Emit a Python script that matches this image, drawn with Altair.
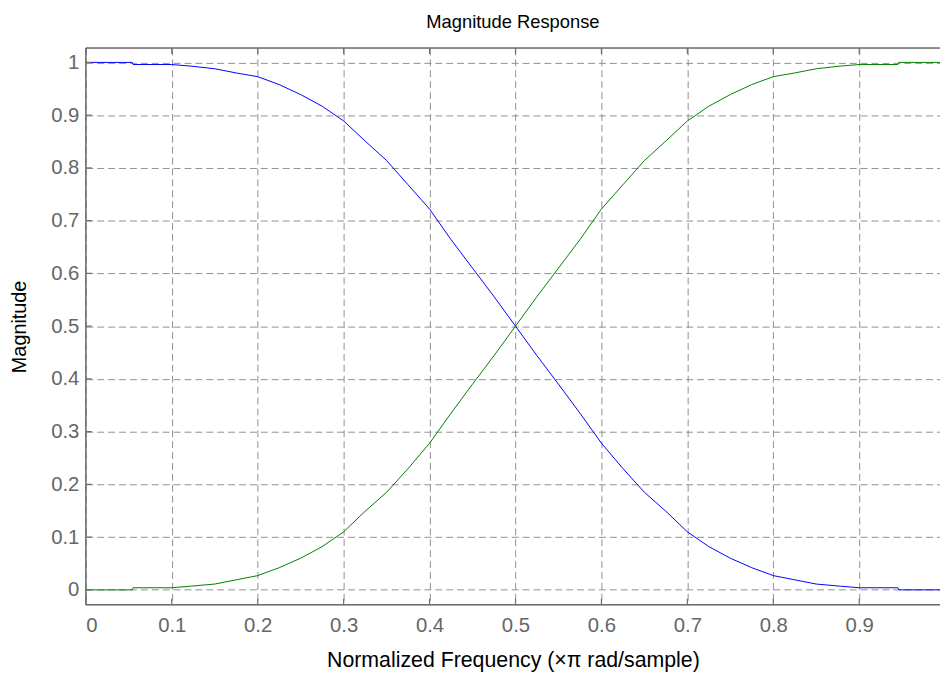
import altair as alt
import pandas as pd

# Normalized frequency (x pi rad/sample)
freq = [0, 0.054, 0.055, 0.1, 0.122, 0.15, 0.175, 0.2, 0.225, 0.25, 0.275, 0.3,
        0.325, 0.35, 0.375, 0.4, 0.425, 0.45, 0.475, 0.5, 0.525, 0.55, 0.575, 0.6,
        0.625, 0.65, 0.675, 0.7, 0.725, 0.75, 0.775, 0.8, 0.825, 0.85, 0.878, 0.9,
        0.945, 0.946, 1.0]
# Lowpass (blue) magnitude
blue = [1.0, 1.0, 0.996, 0.996, 0.993, 0.988, 0.980, 0.973, 0.958, 0.939, 0.917, 0.889,
        0.851, 0.814, 0.768, 0.722, 0.664, 0.610, 0.556, 0.5, 0.444, 0.390, 0.335, 0.278,
        0.230, 0.185, 0.149, 0.110, 0.082, 0.060, 0.042, 0.027, 0.019, 0.011, 0.007, 0.004,
        0.004, 0.0, 0.0]
# Highpass (green) magnitude
green = [0.0, 0.0, 0.004, 0.004, 0.007, 0.011, 0.019, 0.027, 0.042, 0.060, 0.082, 0.110,
         0.149, 0.185, 0.230, 0.278, 0.335, 0.390, 0.444, 0.5, 0.556, 0.610, 0.664, 0.722,
         0.768, 0.814, 0.851, 0.889, 0.917, 0.939, 0.958, 0.973, 0.980, 0.988, 0.993, 0.996,
         0.996, 1.0, 1.0]

x_ticks = [0, 0.1, 0.2, 0.3, 0.4, 0.5, 0.6, 0.7, 0.8, 0.9]
y_ticks = [0, 0.1, 0.2, 0.3, 0.4, 0.5, 0.6, 0.7, 0.8, 0.9, 1.0]

W = 861.5
H = 561.5
XMAX = 0.994
YMIN, YMAX = -0.0282, 1.0273
FRAME = "#6e6e6e"
GRID = "#909090"
FONT = "Liberation Sans"

df = pd.concat([
    pd.DataFrame({"f": freq, "m": blue, "s": "b"}),
    pd.DataFrame({"f": freq, "m": green, "s": "g"}),
])

xs = alt.Scale(domain=[0, XMAX], nice=False, zero=False)
ys = alt.Scale(domain=[YMIN, YMAX], nice=False, zero=False)

x_axis = alt.Axis(
    values=x_ticks, format="~g", title="Normalized Frequency (×π rad/sample)",
    grid=True, gridDash=[7, 4], gridColor=GRID, gridWidth=1,
    ticks=False, tickSize=0, domain=False,
    labelFontSize=20.5, labelColor="#666666", labelPadding=11, labelFont=FONT,
    titleFontSize=21.5, titleFontWeight="normal", titleColor="#000000", titleFont=FONT,
    titleY=56, titleBaseline="middle")
y_axis = alt.Axis(
    values=y_ticks, format="~g", title="Magnitude",
    grid=True, gridDash=[7, 4], gridColor=GRID, gridWidth=1,
    ticks=False, tickSize=0, domain=False,
    labelFontSize=20.5, labelColor="#666666", labelPadding=7, labelFont=FONT,
    titleFontSize=20, titleFontWeight="normal", titleColor="#000000", titleFont=FONT,
    titleX=-66.5, titleBaseline="middle")

lines = alt.Chart(df).mark_line(strokeWidth=1, clip=True).encode(
    x=alt.X("f:Q", scale=xs, axis=x_axis),
    y=alt.Y("m:Q", scale=ys, axis=y_axis),
    color=alt.Color("s:N", scale=alt.Scale(domain=["b", "g"], range=["#0000ff", "#008000"]), legend=None),
    detail="s:N",
)

one = pd.DataFrame({"a": [0]})
frame_top = alt.Chart(one).mark_rule(color=FRAME, strokeWidth=1.5).encode(
    x=alt.value(0), x2=alt.value(W), y=alt.value(0))
frame_bot = alt.Chart(one).mark_rule(color=FRAME, strokeWidth=1.5).encode(
    x=alt.value(0), x2=alt.value(W), y=alt.value(H))
frame_left = alt.Chart(one).mark_rule(color=FRAME, strokeWidth=1.5).encode(
    x=alt.value(0), y=alt.value(0), y2=alt.value(H))

xt = pd.DataFrame({"f": x_ticks})
yt = pd.DataFrame({"m": y_ticks})
ticks_bot = alt.Chart(xt).mark_rule(color=FRAME, strokeWidth=1.2).encode(
    x=alt.X("f:Q", scale=xs, axis=x_axis), y=alt.value(H), y2=alt.value(H - 6))
ticks_top = alt.Chart(xt).mark_rule(color=FRAME, strokeWidth=1.2).encode(
    x=alt.X("f:Q", scale=xs, axis=x_axis), y=alt.value(0), y2=alt.value(6))
ticks_left = alt.Chart(yt).mark_rule(color=FRAME, strokeWidth=1.2).encode(
    y=alt.Y("m:Q", scale=ys, axis=y_axis), x=alt.value(0), x2=alt.value(6))

chart = alt.layer(
    lines, ticks_bot, ticks_top, ticks_left, frame_top, frame_bot, frame_left
).properties(
    width=W, height=H,
    title=alt.TitleParams("Magnitude Response", fontSize=18.5, fontWeight="normal",
                          font=FONT, color="#000000", anchor="middle", offset=16),
    autosize=alt.AutoSizeParams(type="none"),
    padding={"left": 78.5, "top": 37.5, "right": 0, "bottom": 67},
).configure_view(stroke=None).configure(font=FONT, background="white")

chart.save("out.html", embed_options={"renderer": "svg", "actions": False})
